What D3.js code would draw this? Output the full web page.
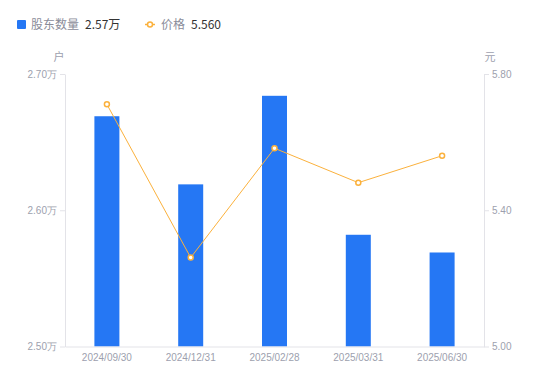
<!DOCTYPE html>
<html>
<head>
<meta charset="utf-8">
<script src="https://cdn.jsdelivr.net/npm/d3@7"></script>
<style>
  body { margin: 0; background: #fff; }
  svg { display: block; font-family: "Noto Sans CJK SC", "Noto Sans", sans-serif; }
</style>
</head>
<body>
<svg id="chart" width="550" height="381"></svg>
<script>
// 数据
const dates = ['2024/09/30', '2024/12/31', '2025/02/28', '2025/03/31', '2025/06/30'];
const holders = [2.669, 2.619, 2.684, 2.582, 2.569]; // 万户
const prices = [5.711, 5.261, 5.582, 5.481, 5.560];  // 元
const leftTicks = [2.50, 2.60, 2.70];
const rightTicks = [5.00, 5.40, 5.80];

const W = 550, H = 381;
const margin = { top: 74, right: 66, bottom: 34.5, left: 65 };
const barColor = '#2577f4', lineColor = '#fbb13c';
const axisColor = '#e3e3e8', labelColor = '#9d9fae';

const svg = d3.select('#chart');

const x = d3.scaleBand().domain(dates)
    .range([margin.left, W - margin.right]).paddingInner(0).paddingOuter(0);
const yL = d3.scaleLinear().domain([2.5, 2.7]).range([H - margin.bottom, margin.top]);
const yR = d3.scaleLinear().domain([5.0, 5.8]).range([H - margin.bottom, margin.top]);

const barW = 25;

// 柱
svg.append('g').selectAll('rect').data(holders).enter().append('rect')
    .attr('x', (d, i) => x(dates[i]) + x.bandwidth() / 2 - barW / 2)
    .attr('y', d => yL(d))
    .attr('width', barW)
    .attr('height', d => yL(2.5) - yL(d))
    .attr('fill', barColor);

// 坐标轴
const styleAxis = g => {
    g.select('.domain').attr('stroke', axisColor);
    g.selectAll('.tick line').attr('stroke', axisColor);
    g.selectAll('.tick text').attr('fill', labelColor).style('font-size', '10px')
        .style('font-family', '"Liberation Sans", Arial, sans-serif');
};

svg.append('g').attr('transform', `translate(${margin.left},0)`)
    .call(d3.axisLeft(yL).tickValues(leftTicks).tickSize(5).tickSizeOuter(0).tickPadding(3)
        .tickFormat(d => d3.format('.2f')(d) + '万'))
    .call(styleAxis);

svg.append('g').attr('transform', `translate(${W - margin.right},0)`)
    .call(d3.axisRight(yR).tickValues(rightTicks).tickSize(5).tickSizeOuter(0).tickPadding(3)
        .tickFormat(d3.format('.2f')))
    .call(styleAxis);

svg.append('g').attr('transform', `translate(0,${H - margin.bottom})`)
    .call(d3.axisBottom(x).tickSize(0).tickPadding(7))
    .call(styleAxis);

// 单位
svg.append('text').attr('x', 59).attr('y', 61).attr('text-anchor', 'middle')
    .attr('fill', labelColor).style('font-size', '11px').text('户');
svg.append('text').attr('x', 490).attr('y', 61).attr('text-anchor', 'middle')
    .attr('fill', labelColor).style('font-size', '11px').text('元');

// 价格折线
const line = d3.line()
    .x((d, i) => x(dates[i]) + x.bandwidth() / 2)
    .y(d => yR(d));

svg.append('path').datum(prices)
    .attr('d', line).attr('fill', 'none')
    .attr('stroke', lineColor).attr('stroke-width', 1);

svg.append('g').selectAll('circle').data(prices).enter().append('circle')
    .attr('cx', (d, i) => x(dates[i]) + x.bandwidth() / 2)
    .attr('cy', d => yR(d))
    .attr('r', 2.5)
    .attr('fill', '#fff')
    .attr('stroke', lineColor).attr('stroke-width', 1.5);

// 图例
const lg = svg.append('g');
lg.append('rect').attr('x', 17).attr('y', 20).attr('width', 9).attr('height', 9)
    .attr('rx', 1).attr('fill', barColor);
lg.append('text').attr('x', 31).attr('y', 29).attr('fill', '#8a8c99')
    .style('font-size', '12px').text('股东数量');
lg.append('text').attr('x', 85).attr('y', 29).attr('fill', '#333')
    .style('font-size', '12px').text(d3.format('.2f')(holders[holders.length - 1]) + '万');

lg.append('line').attr('x1', 145).attr('x2', 155).attr('y1', 24.5).attr('y2', 24.5)
    .attr('stroke', lineColor).attr('stroke-width', 1.5);
lg.append('circle').attr('cx', 150).attr('cy', 24.5).attr('r', 2.5)
    .attr('fill', '#fff').attr('stroke', lineColor).attr('stroke-width', 1.5);
lg.append('text').attr('x', 161).attr('y', 29).attr('fill', '#8a8c99')
    .style('font-size', '12px').text('价格');
lg.append('text').attr('x', 191).attr('y', 29).attr('fill', '#333')
    .style('font-size', '12px').text(d3.format('.3f')(prices[prices.length - 1]));
</script>
</body>
</html>
